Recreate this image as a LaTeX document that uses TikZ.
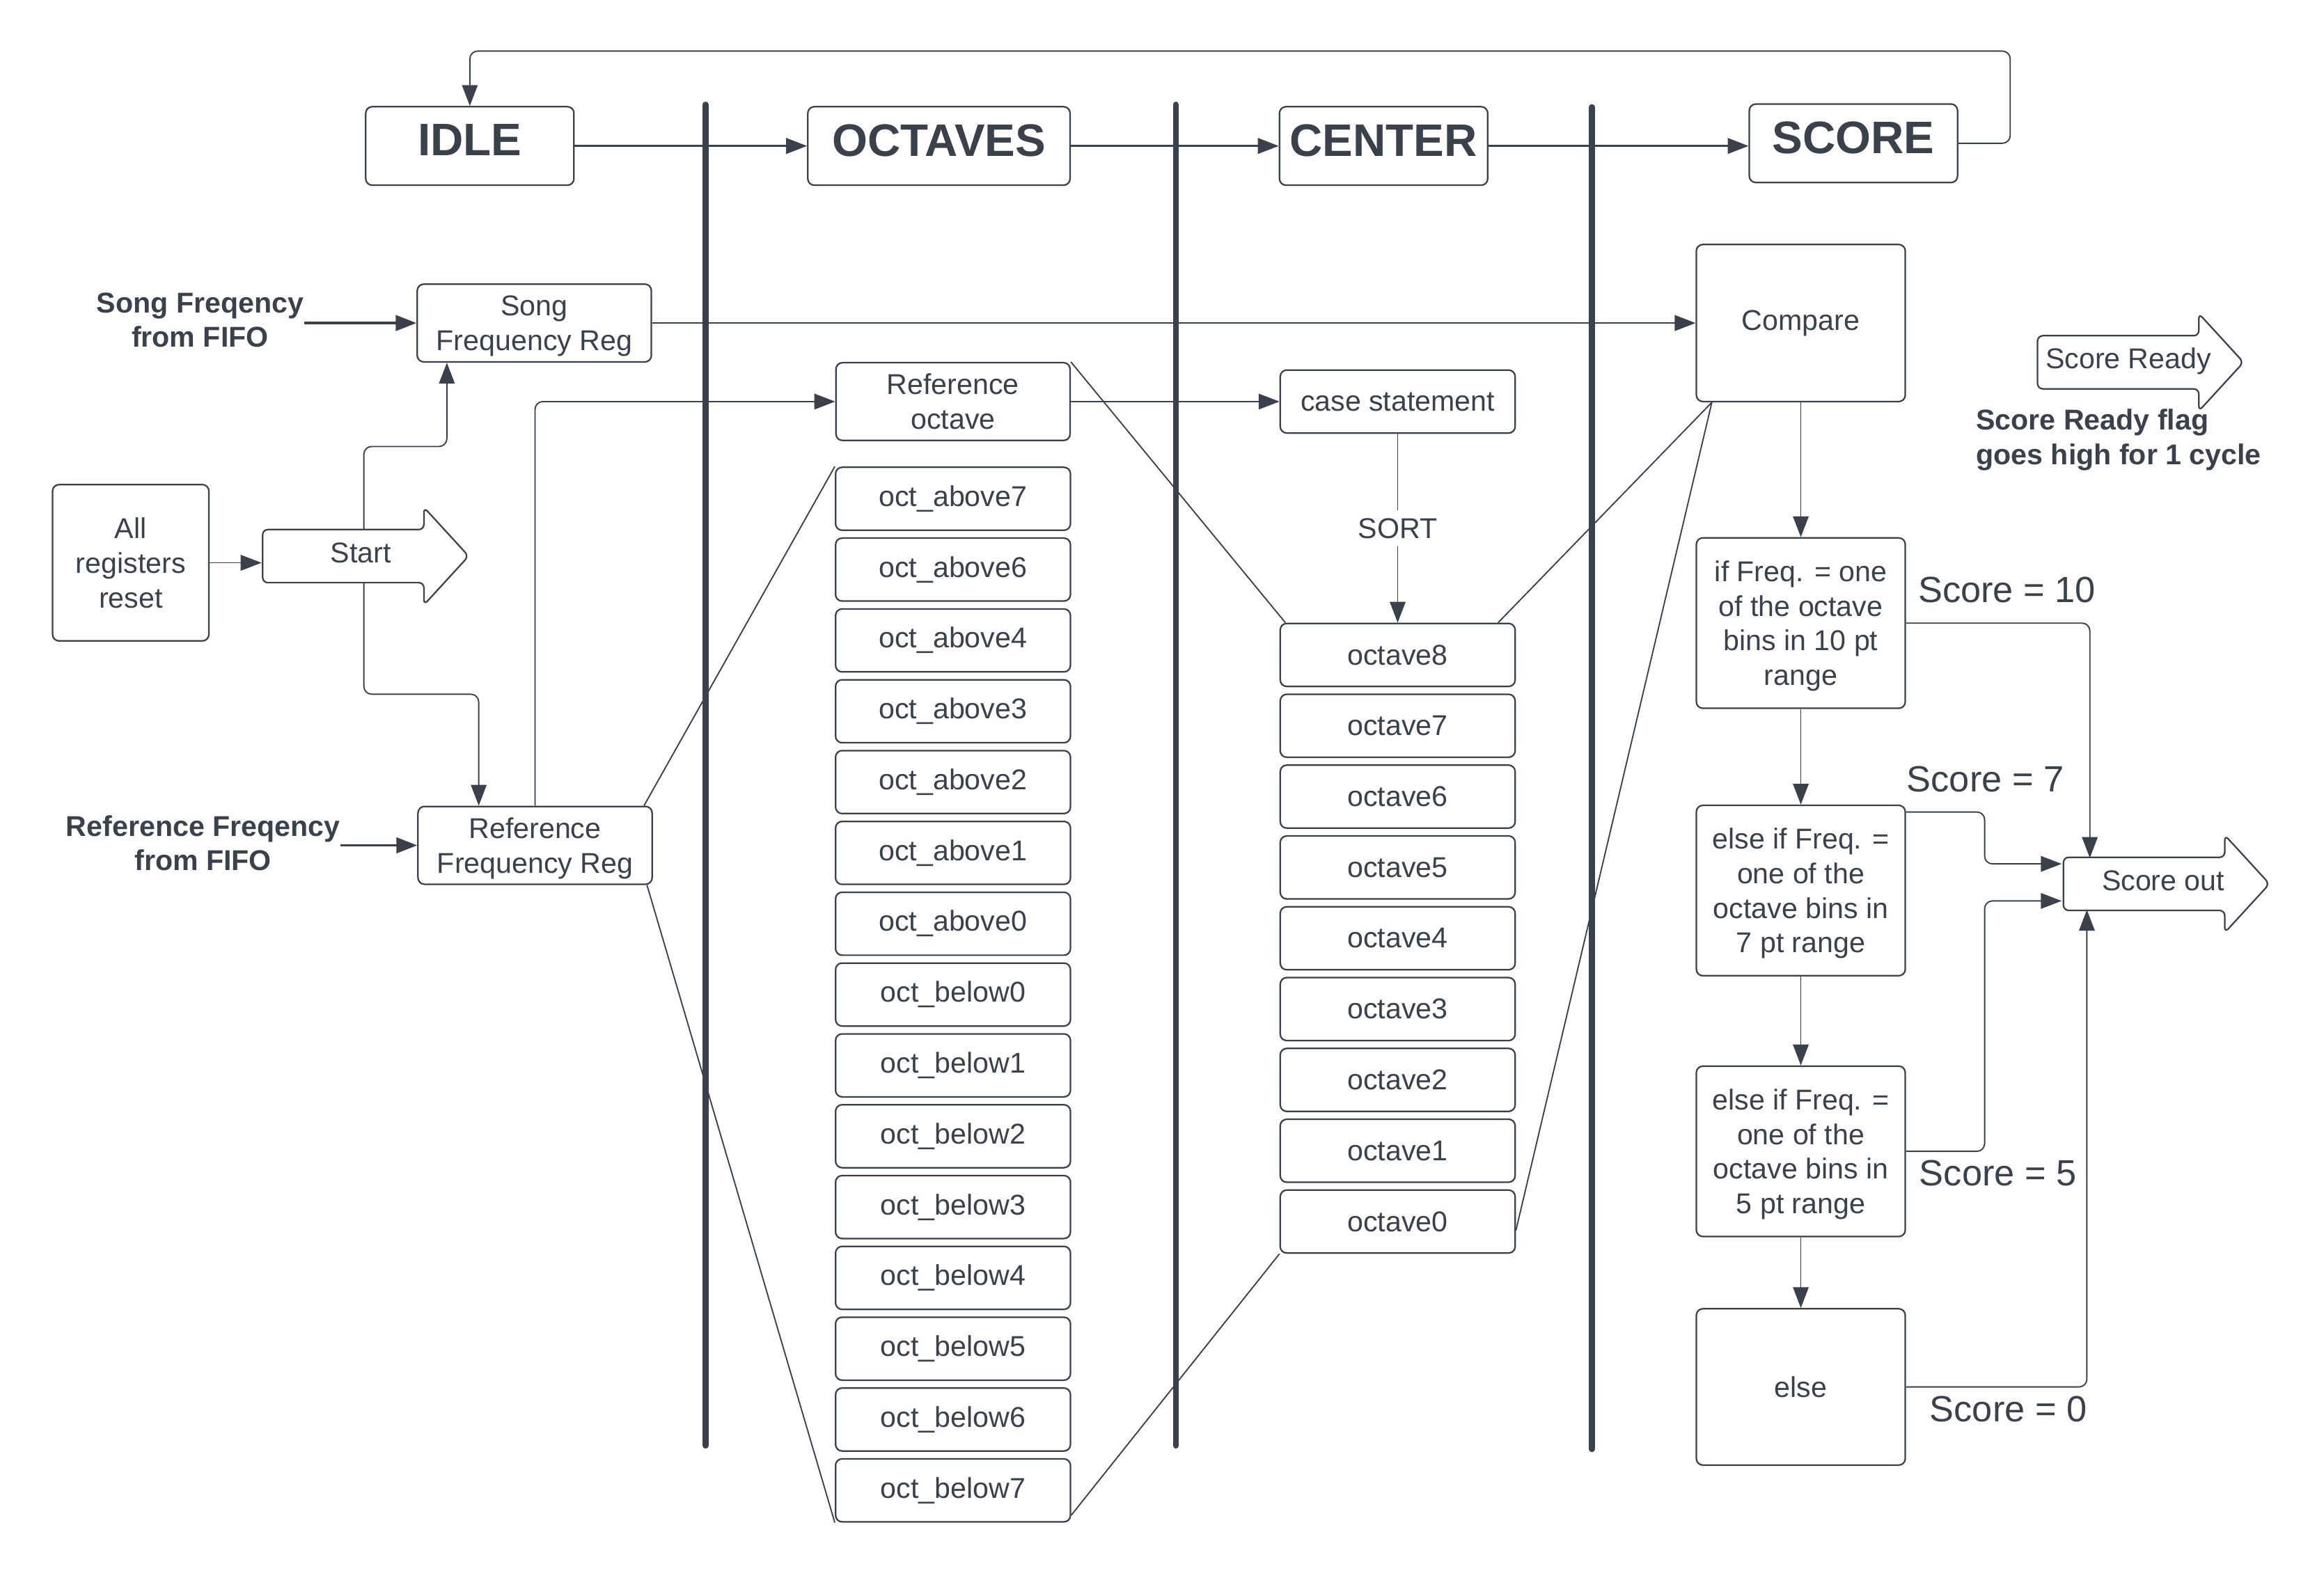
\documentclass[tikz,border=0pt]{standalone}
\usepackage{fontspec}
\setmainfont{Liberation Sans}
\usetikzlibrary{positioning,shapes.arrows,arrows.meta,calc}
\definecolor{ink}{HTML}{3A414A}

\begin{document}
\begin{tikzpicture}[%
		x=0.02cm, y=-0.02cm,
		>={Triangle[length=8pt,width=6pt]},
		every node/.style={text=ink},
		box/.style={%
			draw=ink,
			line width=0.6pt,
			rounded corners=2.5pt,
			align=center,
			inner sep=0pt,
			font=\fontsize{11}{13.3}\selectfont
		},
		state/.style={box, minimum width=2.81cm, minimum height=1.06cm, text depth=4.5pt, font=\fontsize{17.5}{21}\selectfont\bfseries},
		reg/.style={box, minimum width=3.16cm, minimum height=1.05cm},
		bin/.style={box, minimum width=3.17cm, minimum height=0.85cm},
		test/.style={box, minimum width=2.82cm, minimum height=2.3cm, text depth=0pt},
		signal/.style={%
			draw=ink,
			line width=0.6pt,
			single arrow,
			single arrow tip angle=95,
			single arrow head extend=0.3cm,
			minimum height=2.78cm,
			text height=7.5pt,
			text depth=2.5pt,
			inner ysep=4.9pt,
			inner xsep=0pt,
			rounded corners=2pt,
			font=\fontsize{11}{13.3}\selectfont
		},
		main/.style={draw=ink, line width=0.65pt, ->, rounded corners=3pt},
		flow/.style={main, line width=0.5pt},
		feed/.style={main, line width=0.9pt},
		wire/.style={draw=ink, line width=0.5pt},
		lane/.style={draw=ink, line width=2.3pt, line cap=round},
		tag/.style={font=\fontsize{11}{13.3}\selectfont\bfseries, align=center, inner sep=0pt},
		points/.style={font=\fontsize{14}{17}\selectfont, inner sep=0pt}
		]
		\useasboundingbox (0,0) rectangle (1568,1066);

		\draw[lane] (476,70.6) -- (476,975.6);
		\draw[lane] (793.3,70.6) -- (793.3,975.6);
		\draw[lane] (1074,72.3) -- (1074,978);

		\node[state] (idle) at (317,98.5) {IDLE};
		\node[state, minimum width=3.54cm] (octaves) at (633.5,98.5) {OCTAVES};
		\node[state] (ctr) at (933.5,98.5) {CENTER};
		\node[state] (score) at (1250.5,96.7) {SCORE};

		\node[tag] (songin) at (135,216) {Song Freqency\\from FIFO};
		\node[reg, text depth=0pt] (songreg) at (360.5,218) {Song\\Frequency Reg};
		\node[box, minimum width=2.11cm, minimum height=2.11cm] (allreg) at (88.2,379.8) {All\\registers\\reset};
		\node[signal] (start) at (238.5,375.3) {\hspace*{0.2cm}Start};
		\node[tag] (refin) at (137,569) {Reference Freqency\\from FIFO};
		\node[reg, text depth=0pt] (refreg) at (361,570.5) {Reference\\Frequency Reg};
		\node[reg] (refoct) at (643,271) {Reference\\octave};

		\foreach \name/\txt [count=\i from 0] in {a7/above7, a6/above6, a4/above4, a3/above3, a2/above2, a1/above1, a0/above0, b0/below0, b1/below1, b2/below2, b3/below3, b4/below4, b5/below5, b6/below6, b7/below7}
			\node[bin] (\name) at (643,{336.6+47.8*\i}) {oct\_\txt};

		\node[bin] (casest) at (943,271) {case statement};
		\foreach \i in {0,...,8}
			\node[bin] (o\i) at (943,{442+47.8*(8-\i)}) {octave\i};

		\node[box, minimum width=2.82cm, minimum height=2.12cm] (cmp) at (1215,218) {Compare};
		\node[test] (t10) at (1215,420.5) {if Freq. = one\\of the octave\\bins in 10 pt\\range};
		\node[test] (t7) at (1215,601) {else if Freq. =\\one of the\\octave bins in\\7 pt range};
		\node[test] (t5) at (1215,777) {else if Freq. =\\one of the\\octave bins in\\5 pt range};
		\node[box, minimum width=2.82cm, minimum height=2.11cm] (t0) at (1215,936) {else};

		\node[signal] (ready) at (1436,244.5) {Score Ready};
		\node[tag, align=left, anchor=west] (flag) at (1333,297) {Score Ready flag\\goes high for 1 cycle};
		\node[signal] (out) at (1453.5,596.5) {\hspace*{0.24cm}Score out};

		\node[points] (s10) at (1354,398) {Score = 10};
		\node[points] (s7) at (1339.5,526) {Score = 7};
		\node[points] (s5) at (1348,791.5) {Score = 5};
		\node[points] (s0) at (1355,951) {Score = 0};

		\draw[main] (idle) -- (octaves);
		\draw[main] (octaves) -- (ctr);
		\draw[main] (ctr.east) -- (ctr.east -| score.west);
		\draw[flow] (score.east) -- ++(35,0) |- ($(idle.north)+(0,-37)$) -- (idle.north);

		\draw[feed] (songin.east |- songreg.west) -- (songreg.west);
		\draw[feed] (refin.east |- refreg.west) -- (refreg.west);
		\draw[main] (songreg) -- (cmp);
		\draw[flow] (allreg.east) -- ++(35,0);
		\draw[flow] ($(start.center)+(7,-17.7)$) -- ++(0,-56.3) -| ($(songreg.south)+(-59,0)$);
		\draw[flow] ($(start.center)+(7,17.7)$) -- ++(0,75.5) -| ($(refreg.north)+(-38,0)$);
		\draw[flow] (refreg.north) |- (refoct.west);
		\draw[flow] (refoct) -- (casest);
		\draw[flow] (casest) -- node[fill=white, inner xsep=0pt, inner ysep=3pt, font=\fontsize{11}{13.3}\selectfont] {SORT} (o8);

		\draw[wire] ($(refreg.north east)+(-6,0)$) -- (a7.north west);
		\draw[wire] ($(refreg.south east)+(-4,0)$) -- (b7.south west);
		\draw[wire] (refoct.north east) -- ($(o8.north west)+(4,0)$);
		\draw[wire] ($(b7.south east)+(0,-5)$) -- (o0.south west);
		\draw[wire] ($(cmp.south west)+(11,0)$) -- ($(o8.north east)+(-12,0)$);
		\draw[wire] ($(cmp.south west)+(11,0)$) -- ($(o0.east)+(0,6)$);

		\draw[flow] (cmp) -- (t10);
		\draw[flow] (t10) -- (t7);
		\draw[flow] (t7) -- (t5);
		\draw[flow] (t5) -- (t0);
		\draw[flow] (t10.east) -| ($(out.center)+(-43.5,-17.5)$);
		\draw[flow] ($(t7.north east)+(0,5)$) -- ++(53,0) |- ($(out.center)+(-62.5,-13.5)$);
		\draw[flow] (t5.east) -- ++(53,0) |- ($(out.center)+(-62.5,11.5)$);
		\draw[flow] (t0.east) -| ($(out.center)+(-45.5,17.5)$);
		\end{tikzpicture}
\end{document}
